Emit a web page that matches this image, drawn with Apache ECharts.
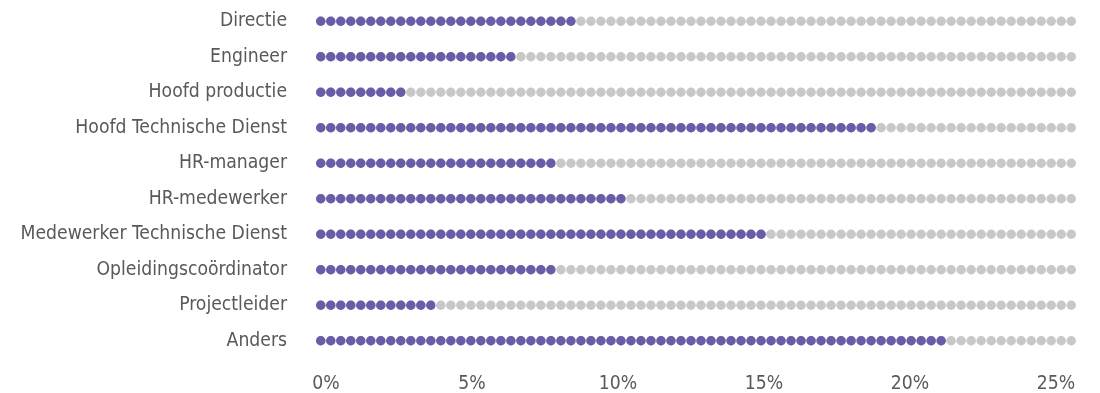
<!DOCTYPE html>
<html>
<head>
<meta charset="utf-8">
<script src="https://cdn.jsdelivr.net/npm/echarts@6/dist/echarts.min.js"></script>
<style>
  html, body { margin: 0; padding: 0; background: #ffffff; }
  #chart { width: 1100px; height: 393px; }
</style>
</head>
<body>
<div id="chart"></div>
<script>
// Categories (top to bottom)
const categories = [
  'Directie',
  'Engineer',
  'Hoofd productie',
  'Hoofd Technische Dienst',
  'HR-manager',
  'HR-medewerker',
  'Medewerker Technische Dienst',
  'Opleidingscoördinator',
  'Projectleider',
  'Anders'
];
// Share per role (%)
const shareValues = [8.89, 6.83, 3.07, 19.16, 8.20, 10.60, 15.40, 8.20, 4.09, 21.56];
// Full track length of the dotted rows (%)
const trackMax = 26;
// x-axis tick labels
const xTickValues = [0, 5, 10, 15, 20, 25];
const xTickLabels = ['0%', '5%', '10%', '15%', '20%', '25%'];

const FONT = "'DejaVu Sans Condensed', 'DejaVu Sans', sans-serif";
const TEXT = '#595959';
const PURPLE = '#6a5ca8';
const GREY = '#c8c8c8';
const DOT = 9.5;
const DOTS_PER_ROW = 76;

const chart = echarts.init(document.getElementById('chart'), null, { renderer: 'canvas' });

chart.setOption({
  animation: false,
  backgroundColor: '#ffffff',
  grid: [
    { left: 316, right: 24, top: 3.5, bottom: 34.5, containLabel: false, outerBoundsMode: 'none' },
    { left: 326, right: 44, top: 3.5, bottom: 34.5, containLabel: false, outerBoundsMode: 'none' }
  ],
  xAxis: [
    { gridIndex: 0, type: 'value', min: 0, max: trackMax, show: false },
    {
      gridIndex: 1, type: 'value', min: 0, max: 25, interval: 5,
      axisLine: { show: false }, axisTick: { show: false }, splitLine: { show: false },
      axisLabel: {
        margin: 16,
        fontFamily: FONT, fontSize: 19.2, color: TEXT,
        formatter: function (v) {
          const i = xTickValues.indexOf(v);
          return i >= 0 ? xTickLabels[i] : '';
        }
      }
    }
  ],
  yAxis: [
    {
      gridIndex: 0, type: 'category', data: categories, inverse: true,
      axisLine: { show: false }, axisTick: { show: false }, splitLine: { show: false },
      axisLabel: { margin: 29, fontFamily: FONT, fontSize: 19.2, color: TEXT }
    },
    { gridIndex: 1, type: 'category', data: categories, inverse: true, show: false }
  ],
  series: [
    {
      name: 'track',
      type: 'pictorialBar',
      xAxisIndex: 0, yAxisIndex: 0,
      symbol: 'circle',
      symbolSize: [DOT, DOT],
      symbolRepeat: DOTS_PER_ROW,
      symbolBoundingData: trackMax,
      symbolPosition: 'start',
      itemStyle: { color: GREY },
      silent: true,
      data: categories.map(function () { return trackMax; })
    },
    {
      name: 'share',
      type: 'pictorialBar',
      xAxisIndex: 0, yAxisIndex: 0,
      symbol: 'circle',
      symbolSize: [DOT, DOT],
      symbolRepeat: DOTS_PER_ROW,
      symbolBoundingData: trackMax,
      symbolClip: true,
      symbolPosition: 'start',
      itemStyle: { color: PURPLE },
      data: shareValues
    }
  ]
});
</script>
</body>
</html>
